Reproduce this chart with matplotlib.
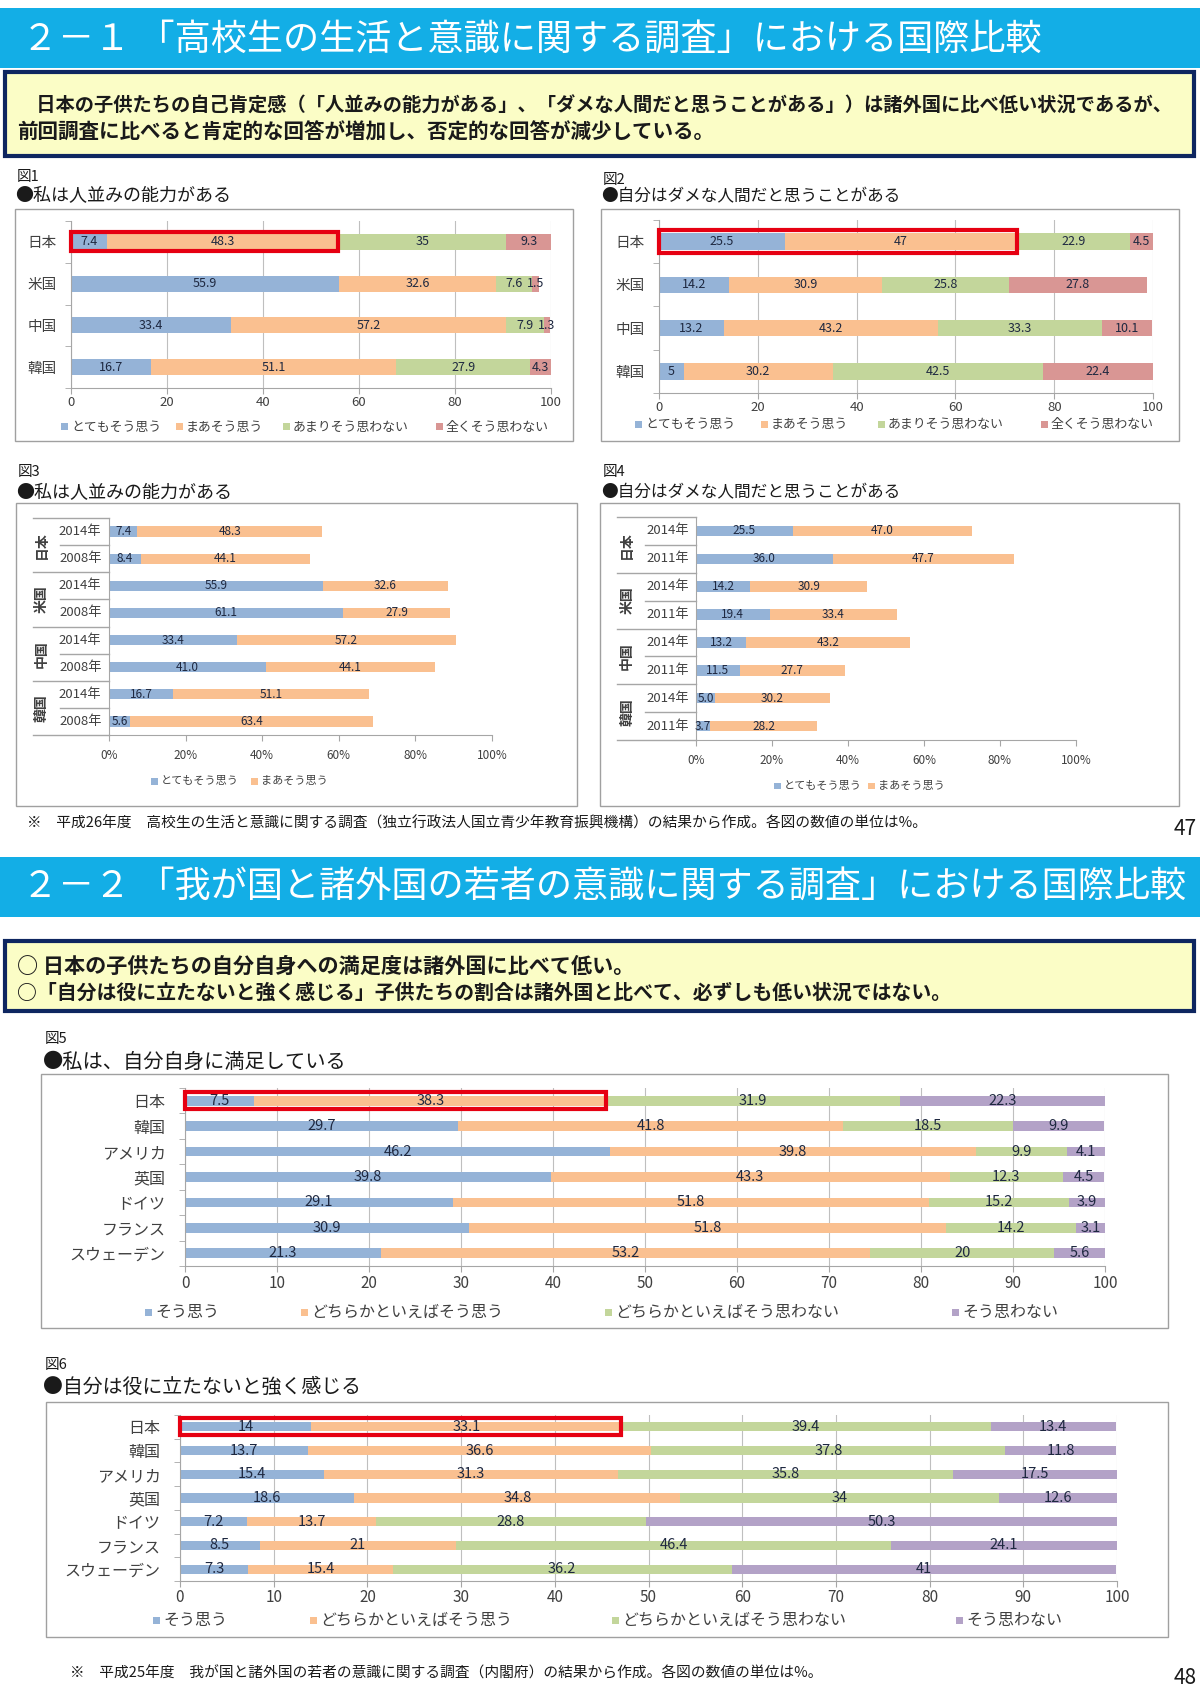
import numpy as np
import matplotlib
matplotlib.use("Agg")
import matplotlib.pyplot as plt
from matplotlib.patches import Rectangle

plt.rcParams['font.family'] = ['Noto Sans CJK JP', 'DejaVu Sans']

# ---- data ----
countries_a = ['日本', '米国', '中国', '韓国']
legend_a = ['とてもそう思う', 'まあそう思う', 'あまりそう思わない', '全くそう思わない']

# 図1 私は人並みの能力がある
f1_very = [7.4, 55.9, 33.4, 16.7]
f1_some = [48.3, 32.6, 57.2, 51.1]
f1_notmuch = [35, 7.6, 7.9, 27.9]
f1_notatall = [9.3, 1.5, 1.3, 4.3]

# 図2 自分はダメな人間だと思うことがある
f2_very = [25.5, 14.2, 13.2, 5]
f2_some = [47, 30.9, 43.2, 30.2]
f2_notmuch = [22.9, 25.8, 33.3, 42.5]
f2_notatall = [4.5, 27.8, 10.1, 22.4]

# 図3 (2014 / 2008)
f3_years = ['2014年', '2008年'] * 4
f3_very = [7.4, 8.4, 55.9, 61.1, 33.4, 41.0, 16.7, 5.6]
f3_some = [48.3, 44.1, 32.6, 27.9, 57.2, 44.1, 51.1, 63.4]

# 図4 (2014 / 2011)
f4_years = ['2014年', '2011年'] * 4
f4_very = [25.5, 36.0, 14.2, 19.4, 13.2, 11.5, 5.0, 3.7]
f4_some = [47.0, 47.7, 30.9, 33.4, 43.2, 27.7, 30.2, 28.2]

countries_b = ['日本', '韓国', 'アメリカ', '英国', 'ドイツ', 'フランス', 'スウェーデン']
legend_b = ['そう思う', 'どちらかといえばそう思う', 'どちらかといえばそう思わない', 'そう思わない']

# 図5 私は、自分自身に満足している
f5_yes = [7.5, 29.7, 46.2, 39.8, 29.1, 30.9, 21.3]
f5_ryes = [38.3, 41.8, 39.8, 43.3, 51.8, 51.8, 53.2]
f5_rno = [31.9, 18.5, 9.9, 12.3, 15.2, 14.2, 20]
f5_no = [22.3, 9.9, 4.1, 4.5, 3.9, 3.1, 5.6]

# 図6 自分は役に立たないと強く感じる
f6_yes = [14, 13.7, 15.4, 18.6, 7.2, 8.5, 7.3]
f6_ryes = [33.1, 36.6, 31.3, 34.8, 13.7, 21, 15.4]
f6_rno = [39.4, 37.8, 35.8, 34, 28.8, 46.4, 36.2]
f6_no = [13.4, 11.8, 17.5, 12.6, 50.3, 24.1, 41]

BLUE, ORANGE, GREEN, RED, PURPLE = '#95B3D7', '#FAC090', '#C3D69B', '#D99694', '#B3A2C7'
CYAN = '#13AEE6'
NAVY = '#0E2660'
GRID = '#BFBFBF'
HILITE = '#E60012'
LBL = '#1E2840'
TXT = '#1A1A1A'

W, H = 1200, 1697
fig = plt.figure(figsize=(W / 100, H / 100), dpi=100)


def box(x0, y0, x1, y1, fc='none', ec='none', lw=1.0, z=-1):
    fig.add_artist(Rectangle((x0 / W, 1 - y1 / H), (x1 - x0) / W, (y1 - y0) / H,
                             transform=fig.transFigure, fc=fc, ec=ec, lw=lw, zorder=z))


def put(x, y, s, **kw):
    kw.setdefault('va', 'center')
    kw.setdefault('color', TXT)
    fig.text(x / W, 1 - y / H, s, **kw)


def axes_px(x0, y0, x1, y1):
    return fig.add_axes([x0 / W, 1 - y1 / H, (x1 - x0) / W, (y1 - y0) / H])


def legend_row(xs, y, labels, colors, fs):
    for x, lab, c in zip(xs, labels, colors):
        box(x, y - 3.5, x + 7, y + 3.5, fc=c, z=3)
        put(x + 10, y, lab, fontsize=fs, color='#404040')


def fmt_g(v):
    return f'{v:g}'


def fmt_1(v):
    return f'{v:.1f}'


def stacked(ax, cats, series, colors, fmt, fs):
    left = np.zeros(len(cats))
    ypos = np.arange(len(cats))
    for vals, c in zip(series, colors):
        bars = ax.barh(ypos, vals, left=left, height=0.38, color=c, zorder=2)
        ax.bar_label(bars, labels=[fmt(v) for v in vals], label_type='center',
                     fontsize=fs, color=LBL, zorder=6)
        left += np.array(vals)
    ax.set_ylim(len(cats) - 0.5, -0.5)


def style_axes(ax, step, fs_tick, pad, fs_cat=None, cats=None, cat_pad=10, grid=True):
    ax.set_xlim(0, 100)
    ax.set_xticks(np.arange(0, 101, step))
    for s in ['top', 'right']:
        ax.spines[s].set_visible(False)
    for s in ['left', 'bottom']:
        ax.spines[s].set_color('#A6A6A6')
    ax.tick_params(axis='x', length=4, color='#A6A6A6', labelsize=fs_tick,
                   labelcolor='#404040', pad=pad)
    if grid:
        ax.grid(axis='x', color=GRID, lw=0.8)
        ax.set_axisbelow(True)
    if cats is not None:
        ax.set_yticks(np.arange(len(cats)))
        ax.set_yticklabels(cats, fontsize=fs_cat, color='#404040')
        ax.set_yticks(np.arange(-0.5, len(cats)), minor=True)
        ax.tick_params(axis='y', which='major', length=0, pad=cat_pad)
        ax.tick_params(axis='y', which='minor', length=4, color='#A6A6A6')
    ax.patch.set_alpha(0)


def highlight(ax, width, half):
    ax.add_patch(Rectangle((0, -half), width, 2 * half, fill=False, ec=HILITE,
                           lw=3, clip_on=False, zorder=7))


def table_axis(ax, countries, years, xg, xs, xy, xc):
    tr = ax.get_yaxis_transform()
    n = len(years)
    for k in range(0, n + 1, 2):
        ax.plot([xg, 0], [k - 0.5, k - 0.5], transform=tr, color='#A6A6A6',
                lw=1, clip_on=False)
    for k in range(1, n, 2):
        ax.plot([xs, 0], [k - 0.5, k - 0.5], transform=tr, color='#A6A6A6',
                lw=1, clip_on=False)
    for i, yr in enumerate(years):
        ax.text(xy, i, yr, transform=tr, ha='center', va='center', fontsize=9.5,
                color='#404040')
    for j, c in enumerate(countries):
        ax.text(xc, 2 * j + 0.5, c, transform=tr, ha='center', va='center',
                rotation=90, fontsize=10, color='#404040', weight='bold')
    ax.set_yticks([])
    ax.set_xticklabels([f'{v}%' for v in range(0, 101, 20)])


# ---- page decorations ----
box(0, 8, 1200, 68, fc=CYAN)
put(22, 40, '２－１ 「高校生の生活と意識に関する調査」における国際比較', fontsize=26, color='white')
box(5, 72, 1194, 156, fc='#FBFDC6', ec=NAVY, lw=3)
put(17, 106, '　日本の子供たちの自己肯定感（「人並みの能力がある」、「ダメな人間だと思うことがある」）は諸外国に比べ低い状況であるが、',
    fontsize=13.85, weight='bold')
put(17, 132, '前回調査に比べると肯定的な回答が増加し、否定的な回答が減少している。', fontsize=14.8, weight='bold')

box(0, 857, 1200, 917, fc=CYAN)
put(22, 887, '２－２ 「我が国と諸外国の若者の意識に関する調査」における国際比較', fontsize=26, color='white')
box(5, 941, 1194, 1011, fc='#FBFDC6', ec=NAVY, lw=3)
put(17, 966, '○ 日本の子供たちの自分自身への満足度は諸外国に比べて低い。', fontsize=15.2, weight='bold')
put(17, 992, '○「自分は役に立たないと強く感じる」子供たちの割合は諸外国と比べて、必ずしも低い状況ではない。',
    fontsize=14.3, weight='bold')

put(27, 823, '※　平成26年度　高校生の生活と意識に関する調査（独立行政法人国立青少年教育振興機構）の結果から作成。各図の数値の単位は%。',
    fontsize=10.6)
put(1197, 829, '47', fontsize=15, ha='right')
put(70, 1673, '※　平成25年度　我が国と諸外国の若者の意識に関する調査（内閣府）の結果から作成。各図の数値の単位は%。',
    fontsize=10.6)
put(1197, 1678, '48', fontsize=15, ha='right')

# chart frames
box(15, 209, 573, 441, fc='white', ec='#A0A0A0')
box(601, 209, 1179, 441, fc='white', ec='#A0A0A0')
box(16, 503, 577, 806, fc='white', ec='#A0A0A0')
box(600, 503, 1179, 806, fc='white', ec='#A0A0A0')
box(41, 1074, 1168, 1328, fc='white', ec='#A0A0A0')
box(46, 1402, 1168, 1637, fc='white', ec='#A0A0A0')

put(17, 177, '図1', fontsize=10.5)
put(15, 196, '●私は人並みの能力がある', fontsize=13)
put(603, 180, '図2', fontsize=10.5)
put(601, 197, '●自分はダメな人間だと思うことがある', fontsize=12)
put(18, 472, '図3', fontsize=10.5)
put(16, 493, '●私は人並みの能力がある', fontsize=13)
put(603, 472, '図4', fontsize=10.5)
put(601, 493, '●自分はダメな人間だと思うことがある', fontsize=12)
put(45, 1039, '図5', fontsize=10.5)
put(43, 1062, '●私は、自分自身に満足している', fontsize=14.6)
put(45, 1365, '図6', fontsize=10.5)
put(43, 1387, '●自分は役に立たないと強く感じる', fontsize=14.3)

colors_a = [BLUE, ORANGE, GREEN, RED]
colors_b = [BLUE, ORANGE, GREEN, PURPLE]

# 図1
ax1 = axes_px(71, 221, 551, 388)
stacked(ax1, countries_a, [f1_very, f1_some, f1_notmuch, f1_notatall], colors_a, fmt_g, 9)
style_axes(ax1, 20, 9.5, 2, 10.5, countries_a)
highlight(ax1, f1_very[0] + f1_some[0], 0.23)
legend_row([61, 176, 283, 436], 427, legend_a, colors_a, 9.3)

# 図2
ax2 = axes_px(659, 220, 1153, 393)
stacked(ax2, countries_a, [f2_very, f2_some, f2_notmuch, f2_notatall], colors_a, fmt_g, 9)
style_axes(ax2, 20, 9.5, 1.5, 10.5, countries_a)
highlight(ax2, f2_very[0] + f2_some[0], 0.26)
legend_row([635, 761, 878, 1041], 424, legend_a, colors_a, 9.3)

# 図3
ax3 = axes_px(109, 518, 492, 735)
stacked(ax3, f3_years, [f3_very, f3_some], [BLUE, ORANGE], fmt_1, 8.5)
style_axes(ax3, 20, 8.5, 6, grid=False)
table_axis(ax3, countries_a, f3_years, -0.199, -0.128, -0.075, -0.175)
legend_row([151, 251], 781, legend_a[:2], [BLUE, ORANGE], 8)

# 図4
ax4 = axes_px(696, 517, 1076, 740)
stacked(ax4, f4_years, [f4_very, f4_some], [BLUE, ORANGE], fmt_1, 8.5)
style_axes(ax4, 20, 8.5, 6, grid=False)
table_axis(ax4, countries_a, f4_years, -0.207, -0.134, -0.075, -0.181)
legend_row([774, 868], 786, legend_a[:2], [BLUE, ORANGE], 8)

# 図5
ax5 = axes_px(185, 1088, 1105, 1266)
stacked(ax5, countries_b, [f5_yes, f5_ryes, f5_rno, f5_no], colors_b, fmt_g, 10.5)
style_axes(ax5, 10, 11, 2.5, 11.5, countries_b, cat_pad=14)
highlight(ax5, f5_yes[0] + f5_ryes[0], 0.33)
legend_row([145, 301, 605, 952], 1312, legend_b, colors_b, 11.5)

# 図6
ax6 = axes_px(180, 1415, 1117, 1581)
stacked(ax6, countries_b, [f6_yes, f6_ryes, f6_rno, f6_no], colors_b, fmt_g, 10.5)
style_axes(ax6, 10, 11, 2, 11.5, countries_b, cat_pad=14)
highlight(ax6, f6_yes[0] + f6_ryes[0], 0.36)
legend_row([153, 310, 612, 956], 1620, legend_b, colors_b, 11.5)

fig.savefig('out.png', dpi=100)
